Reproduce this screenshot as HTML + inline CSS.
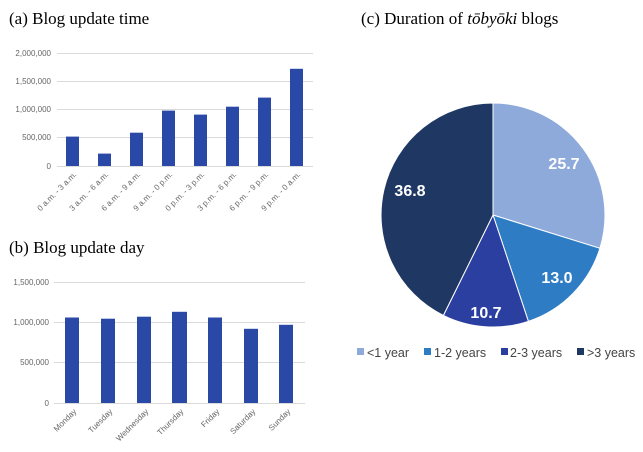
<!DOCTYPE html>
<html><head><meta charset="utf-8"><style>body{margin:0;background:#fff}svg{display:block}</style></head><body>
<svg width="643" height="452" xmlns="http://www.w3.org/2000/svg" font-family="Liberation Sans, sans-serif">
<g font-family="Liberation Serif, serif" font-size="17" fill="#000">
<text x="9" y="24">(a) Blog update time</text>
<text x="9" y="253">(b) Blog update day</text>
<text x="361" y="24">(c) Duration of <tspan font-style="italic">tōbyōki</tspan> blogs</text>
</g>
<g stroke="#dadada" stroke-width="1">
<line x1="57" x2="313" y1="53.5" y2="53.5"/><line x1="57" x2="313" y1="81.5" y2="81.5"/><line x1="57" x2="313" y1="109.5" y2="109.5"/><line x1="57" x2="313" y1="137.5" y2="137.5"/><line x1="57" x2="313" y1="166.5" y2="166.5"/>
<line x1="54" x2="305" y1="282.5" y2="282.5"/><line x1="54" x2="305" y1="322.5" y2="322.5"/><line x1="54" x2="305" y1="362.5" y2="362.5"/><line x1="54" x2="305" y1="403.5" y2="403.5"/>
</g>
<g font-size="8" fill="#666" text-anchor="end">
<text x="51" y="56">2,000,000</text><text x="51" y="84">1,500,000</text><text x="51" y="112">1,000,000</text><text x="51" y="140">500,000</text><text x="51" y="169">0</text>
<text x="49" y="285">1,500,000</text><text x="49" y="325">1,000,000</text><text x="49" y="365">500,000</text><text x="49" y="406">0</text>
</g>
<g fill="#2a48a6">
<rect x="66" y="136.6" width="13" height="29.4"/><rect x="98" y="153.6" width="13" height="12.4"/><rect x="130" y="132.7" width="13" height="33.3"/><rect x="162" y="110.6" width="13" height="55.4"/><rect x="194" y="114.6" width="13" height="51.4"/><rect x="226" y="106.7" width="13" height="59.3"/><rect x="258" y="97.6" width="13" height="68.4"/><rect x="290" y="68.8" width="13" height="97.2"/>
<rect x="65" y="317.5" width="14" height="85.5"/><rect x="101" y="318.7" width="14" height="84.3"/><rect x="137" y="316.7" width="14" height="86.3"/><rect x="172" y="311.8" width="15" height="91.2"/><rect x="208" y="317.5" width="14" height="85.5"/><rect x="244" y="328.8" width="14" height="74.2"/><rect x="279" y="324.8" width="14" height="78.2"/>
</g>
<g font-size="8" fill="#666" text-anchor="end">
<text transform="translate(77,175) rotate(-45)">0 a.m. - 3 a.m.</text>
<text transform="translate(109,175) rotate(-45)">3 a.m. - 6 a.m.</text>
<text transform="translate(141,175) rotate(-45)">6 a.m. - 9 a.m.</text>
<text transform="translate(173,175) rotate(-45)">9 a.m. - 0 p.m.</text>
<text transform="translate(205,175) rotate(-45)">0 p.m. - 3 p.m.</text>
<text transform="translate(237,175) rotate(-45)">3 p.m. - 6 p.m.</text>
<text transform="translate(269,175) rotate(-45)">6 p.m. - 9 p.m.</text>
<text transform="translate(301,175) rotate(-45)">9 p.m. - 0 a.m.</text>
<text transform="translate(77,412) rotate(-45)">Monday</text>
<text transform="translate(113,412) rotate(-45)">Tuesday</text>
<text transform="translate(149,412) rotate(-45)">Wednesday</text>
<text transform="translate(184,412) rotate(-45)">Thursday</text>
<text transform="translate(220,412) rotate(-45)">Friday</text>
<text transform="translate(256,412) rotate(-45)">Saturday</text>
<text transform="translate(291,412) rotate(-45)">Sunday</text>
</g>
<g stroke="#fff" stroke-width="1">
<path d="M493,215 L493,103 A112,112 0 0 1 599.9,248.3 Z" fill="#8eaadb"/>
<path d="M493,215 L599.9,248.3 A112,112 0 0 1 528.4,321.3 Z" fill="#2e7cc4"/>
<path d="M493,215 L528.4,321.3 A112,112 0 0 1 443.4,315.4 Z" fill="#2a3fa0"/>
<path d="M493,215 L443.4,315.4 A112,112 0 0 1 493,103 Z" fill="#1f3763"/>
</g>
<g font-size="16" font-weight="bold" fill="#fff" text-anchor="middle">
<text x="564" y="169">25.7</text><text x="557" y="283">13.0</text><text x="486" y="318">10.7</text><text x="410" y="196">36.8</text>
</g>
<g font-size="12.5" fill="#444">
<rect x="357" y="348" width="7" height="7" fill="#8eaadb"/><text x="367" y="357">&lt;1 year</text>
<rect x="424" y="348" width="7" height="7" fill="#2e7cc4"/><text x="434" y="357">1-2 years</text>
<rect x="501" y="348" width="7" height="7" fill="#2a3fa0"/><text x="510" y="357">2-3 years</text>
<rect x="577" y="348" width="7" height="7" fill="#1f3763"/><text x="587" y="357">&gt;3 years</text>
</g>
</svg>
</body></html>
